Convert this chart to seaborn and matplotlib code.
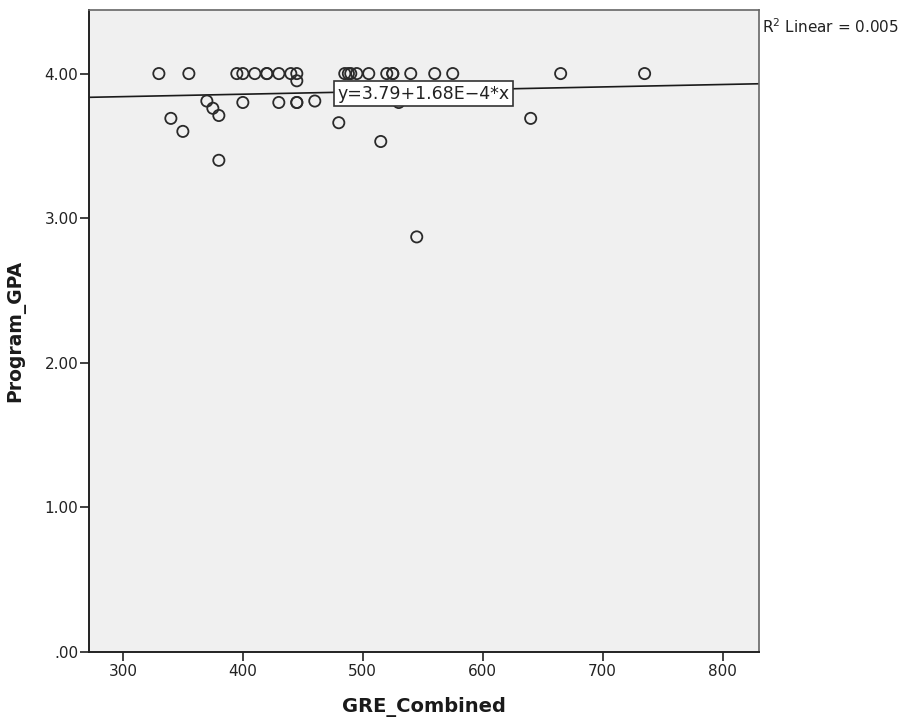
import matplotlib
matplotlib.use("Agg")
import matplotlib.pyplot as plt
import seaborn as sns
import numpy as np
import pandas as pd

gre = [330, 355, 395, 400, 410, 420, 420, 430, 440, 445, 445,
       370, 375, 380, 340, 350, 380, 400, 430, 445, 445, 460, 480,
       485, 488, 490, 495, 505, 520, 525, 525, 540, 560, 575, 665, 735,
       515, 530, 640, 545]
gpa = [4.00, 4.00, 4.00, 4.00, 4.00, 4.00, 4.00, 4.00, 4.00, 4.00, 3.95,
       3.81, 3.76, 3.71, 3.69, 3.60, 3.40, 3.80, 3.80, 3.80, 3.80, 3.81, 3.66,
       4.00, 4.00, 4.00, 4.00, 4.00, 4.00, 4.00, 4.00, 4.00, 4.00, 4.00, 4.00, 4.00,
       3.53, 3.80, 3.69, 2.87]
intercept = 3.79
slope = 1.68e-4
x_ticks = [300, 400, 500, 600, 700, 800]
y_ticks = [0.0, 1.0, 2.0, 3.0, 4.0]
y_ticklabels = [".00", "1.00", "2.00", "3.00", "4.00"]

df = pd.DataFrame({"GRE_Combined": gre, "Program_GPA": gpa})

sns.set_theme(style="white")
plt.rcParams['font.family'] = ['DejaVu Sans']

fig = plt.figure(figsize=(9.04, 7.23), dpi=100)
ax = fig.add_axes([0.0988, 0.0986, 0.7403, 0.8876])
ax.set_facecolor("#f0f0f0")

xlim = (272, 830)
ylim = (0.0, 4.44)

sns.scatterplot(data=df, x="GRE_Combined", y="Program_GPA", ax=ax,
                marker="o", s=65, facecolor="none", edgecolor="#2a2a2a",
                linewidth=1.3, zorder=3)

xs = np.array(xlim)
ax.plot(xs, intercept + slope * xs, color="#1a1a1a", lw=1.2, zorder=2)

ax.set_xlim(*xlim)
ax.set_ylim(*ylim)
ax.set_xticks(x_ticks)
ax.set_yticks(y_ticks)
ax.set_yticklabels(y_ticklabels)
ax.tick_params(axis="both", direction="out", length=6.5, width=1.3,
               color="#333333", labelsize=11, labelcolor="#222222",
               bottom=True, left=True)
ax.tick_params(axis="y", pad=1.5)
ax.tick_params(axis="x", pad=2.5)

for s in ["left", "bottom"]:
    ax.spines[s].set_color("#222222")
    ax.spines[s].set_linewidth(1.4)
for s in ["top", "right"]:
    ax.spines[s].set_color("#666666")
    ax.spines[s].set_linewidth(1.2)

ax.set_xlabel("GRE_Combined", fontsize=14, fontweight="bold", color="#1a1a1a", labelpad=13)
ax.set_ylabel("Program_GPA", fontsize=13.5, fontweight="bold", color="#1a1a1a", labelpad=14)

ax.text(550.5, 3.86, "y=3.79+1.68E\u22124*x", ha="center", va="center",
        fontsize=12.5, color="#222222", zorder=4,
        bbox=dict(boxstyle="square,pad=0.2", facecolor="white", edgecolor="#333333", linewidth=1.2))

fig.text(0.8425, 0.963, r"R$^2$ Linear = 0.005", fontsize=11, color="#222222",
         ha="left", va="center")

fig.savefig("out.png", dpi=100, facecolor="white")
